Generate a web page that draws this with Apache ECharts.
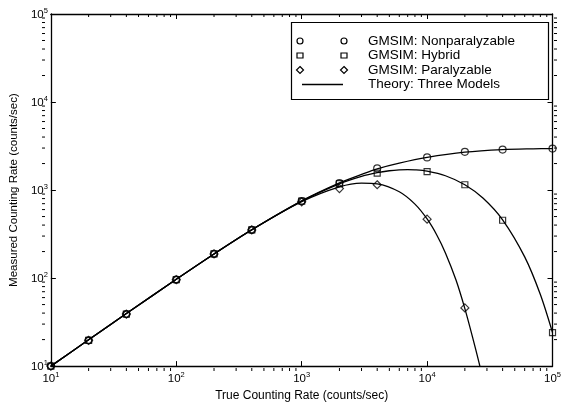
<!DOCTYPE html>
<html><head><meta charset="utf-8">
<script src="https://cdn.jsdelivr.net/npm/echarts@6/dist/echarts.min.js"></script>
<style>html,body{margin:0;padding:0;background:#fff}#c{width:564px;height:407px}</style>
</head><body><div id="c"></div>
<script>
// GMSIM simulation markers
const markerX   = [10,20,40,100,200,400,1000,2000,4000,10000,20000,40000,100000];
const simNonpar = [10,19.6,39,96,188,352,750,1200,1766,2350,2718,2884,2958];
const simHybrid = [10,19.6,39,96,188,352,748,1180,1553,1622,1148,454,24];
const simParX   = [10,20,40,100,200,400,1000,2000,4000,10000,20000];
const simPar    = [10,19.6,39,96,188,352,735,1040,1148,467,45.8];

// Theory curves
const theoryNonparX = [10,20,40,100,200,400,1000,2000,3000,4000,6000,10000,20000,40000,70000,100000];
const theoryNonpar  = [10,19.9,39.5,96.8,188,353,752,1205,1505,1740,2020,2345,2690,2880,2940,2960];
const theoryHybridX = [10,20,40,100,200,400,1000,2000,3000,4000,5000,6000,7000,8000,10000,14000,20000,28000,40000,60000,80000,100000];
const theoryHybrid  = [10,19.9,39.6,96.9,188,354,749,1175,1427,1574,1657,1697,1707,1697,1639,1454,1150,807,459,174,65,24];
const theoryParX    = [10,20,40,100,200,400,1000,2000,3000,4000,6000,8000,10000,12000,14000,17000,20000,23000,26000,27500];
const theoryPar     = [10,19.9,39.5,97,188,354,736,1085,1198,1176,956,692,469,305,193,95,45,21.5,10.8,7.5];

const legendLabels = ['GMSIM: Nonparalyzable','GMSIM: Hybrid','GMSIM: Paralyzable','Theory: Three Models'];
const xName = 'True Counting Rate (counts/sec)';
const yName = 'Measured Counting Rate (counts/sec)';

(function () {
const FONT = 'Liberation Sans, Arial, sans-serif';
const pairs = (xs, ys) => xs.map((v, i) => [v, ys[i]]);
const rich = {
  b: {fontSize: 11.5, fontFamily: FONT, color: '#000', lineHeight: 14, verticalAlign: 'bottom'},
  s: {fontSize: 7.5, fontFamily: FONT, color: '#000', lineHeight: 14, verticalAlign: 'top'}
};
const fmt = v => '{b|10}{s|' + Math.round(Math.log10(v)) + '}';

const baseAxis = {
  type: 'log', logBase: 10, min: 10, max: 100000,
  axisLine: {lineStyle: {color: '#000', width: 1.3}},
  axisTick: {inside: true, length: 5, lineStyle: {color: '#000', width: 1}},
  splitLine: {show: false}, minorTick: {show: false}
};

const chart = echarts.init(document.getElementById('c'), null, {renderer: 'canvas'});
const lineStyle = {color: '#000', width: 1.3};
const markStyle = {color: 'rgba(0,0,0,0)', borderColor: '#000', borderWidth: 1.2};

chart.setOption({
  animation: false,
  backgroundColor: '#fff',
  grid: {left: 42, top: 14, width: 515, height: 357},
  xAxis: [
    Object.assign({}, baseAxis, {position: 'bottom',
      axisLabel: {formatter: fmt, rich: rich, margin: 5},
      name: xName, nameLocation: 'middle', nameGap: 18,
      nameTextStyle: {fontSize: 12, fontFamily: FONT, color: '#000'}}),
    Object.assign({}, baseAxis, {position: 'top', axisLabel: {show: false}})
  ],
  yAxis: [
    Object.assign({}, baseAxis, {position: 'left',
      axisLabel: {formatter: fmt, rich: rich, margin: 3},
      name: yName, nameLocation: 'middle', nameGap: 24,
      nameTextStyle: {fontSize: 11.5, fontFamily: FONT, color: '#000'}}),
    Object.assign({}, baseAxis, {position: 'right', axisLabel: {show: false}})
  ],
  series: [
    {type: 'line', data: pairs(theoryNonparX, theoryNonpar), showSymbol: false, smooth: 0.3, lineStyle},
    {type: 'line', data: pairs(theoryHybridX, theoryHybrid), showSymbol: false, smooth: 0.3, lineStyle},
    {type: 'line', data: pairs(theoryParX, theoryPar), showSymbol: false, smooth: 0.3, lineStyle},
    {type: 'scatter', data: pairs(markerX, simNonpar), symbol: 'circle', symbolSize: 7, itemStyle: markStyle, clip: false, z: 5},
    {type: 'scatter', data: pairs(markerX, simHybrid), symbol: 'rect', symbolSize: 6, itemStyle: markStyle, clip: false, z: 5},
    {type: 'scatter', data: pairs(simParX, simPar), symbol: 'diamond', symbolSize: 8, itemStyle: markStyle, clip: false, z: 5}
  ]
});

const g = [];
const gl = 42, gr = 557, gt = 14, gb = 371;
for (let d = 1; d <= 4; d++) {
  for (let k = 2; k <= 9; k++) {
    const v = k * Math.pow(10, d);
    const px = chart.convertToPixel({xAxisIndex: 0}, v);
    const py = chart.convertToPixel({yAxisIndex: 0}, v);
    const st = {stroke: '#000', lineWidth: 1};
    g.push({type: 'line', shape: {x1: px, y1: gb, x2: px, y2: gb - 3}, style: st, silent: true});
    g.push({type: 'line', shape: {x1: px, y1: gt, x2: px, y2: gt + 3}, style: st, silent: true});
    g.push({type: 'line', shape: {x1: gl, y1: py, x2: gl + 3, y2: py}, style: st, silent: true});
    g.push({type: 'line', shape: {x1: gr, y1: py, x2: gr - 3, y2: py}, style: st, silent: true});
  }
}
const lb = {x: 291.5, y: 22.5, w: 257, h: 77};
g.push({type: 'rect', shape: {x: lb.x, y: lb.y, width: lb.w, height: lb.h}, style: {fill: '#fff', stroke: '#000', lineWidth: 1.2}, z: 100});
const rows = [41, 55.5, 70, 84.5];
const c1 = 300, c2 = 344, tx = 368;
const mk = {fill: 'rgba(0,0,0,0)', stroke: '#000', lineWidth: 1.2};
[c1, c2].forEach(cx => {
  g.push({type: 'circle', shape: {cx: cx, cy: rows[0], r: 3}, style: mk, z: 101});
  g.push({type: 'rect', shape: {x: cx - 3, y: rows[1] - 2.5, width: 6, height: 5}, style: mk, z: 101});
  g.push({type: 'polygon', shape: {points: [[cx, rows[2] - 3.5], [cx + 3.5, rows[2]], [cx, rows[2] + 3.5], [cx - 3.5, rows[2]]]}, style: mk, z: 101});
});
g.push({type: 'line', shape: {x1: 302, y1: rows[3], x2: 343, y2: rows[3]}, style: {stroke: '#000', lineWidth: 1.3}, z: 101});
legendLabels.forEach((t, i) => {
  g.push({type: 'text', x: tx, y: rows[i], style: {text: t, fill: '#000', font: '13.5px ' + FONT, verticalAlign: 'middle', align: 'left'}, z: 101});
});
chart.setOption({graphic: g});
})();
</script></body></html>
